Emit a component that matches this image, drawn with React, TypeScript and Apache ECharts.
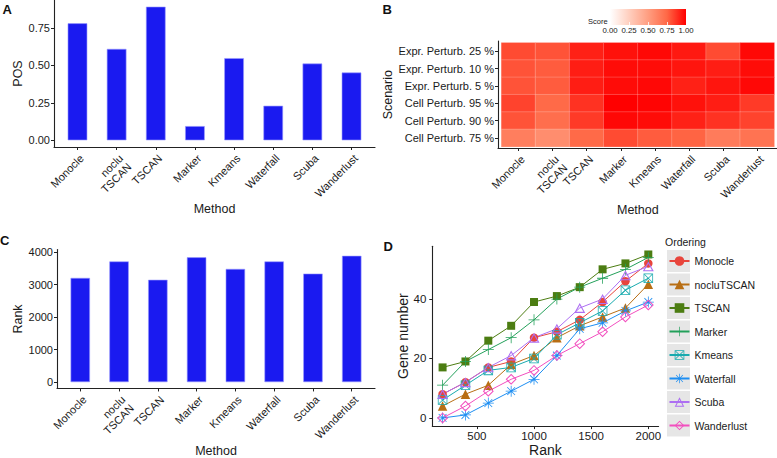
import React, { useEffect, useRef } from 'react';
import * as echarts from 'echarts';

// ---------- data ----------
const methods = ['Monocle', 'noclu\nTSCAN', 'TSCAN', 'Marker', 'Kmeans', 'Waterfall', 'Scuba', 'Wanderlust'];
const methodIdx = [0, 1, 2, 3, 4, 5, 6, 7];
const posValues = [0.782, 0.611, 0.893, 0.095, 0.549, 0.231, 0.513, 0.453];
const posTicks = [0, 0.25, 0.5, 0.75];
const rankValues = [3206, 3712, 3148, 3839, 3482, 3712, 3338, 3885];
const rankTicks = [0, 1000, 2000, 3000, 4000];

const scenarios = [
  'Expr. Perturb. 25 %',
  'Expr. Perturb. 10 %',
  'Expr. Perturb. 5 %',
  'Cell Perturb. 95 %',
  'Cell Perturb. 90 %',
  'Cell Perturb. 75 %',
];
const scoreExpr25 = [0.82, 0.8, 0.92, 0.96, 0.98, 0.94, 0.82, 0.98];
const scoreExpr10 = [0.8, 0.78, 0.93, 0.97, 0.97, 0.95, 0.93, 0.97];
const scoreExpr5 = [0.8, 0.78, 0.93, 0.97, 0.98, 0.92, 0.95, 0.98];
const scoreCell95 = [0.84, 0.74, 0.88, 1.0, 0.99, 0.96, 0.93, 0.86];
const scoreCell90 = [0.8, 0.72, 0.86, 0.98, 0.97, 0.92, 0.88, 0.84];
const scoreCell75 = [0.65, 0.58, 0.74, 0.82, 0.78, 0.76, 0.66, 0.7];
const scoreRows = [scoreExpr25, scoreExpr10, scoreExpr5, scoreCell95, scoreCell90, scoreCell75];
const scoreTicks = [0, 0.25, 0.5, 0.75, 1];
const scoreColors = ['#ffffff', '#ffcfbf', '#ff9e81', '#ff6846', '#ff0000'];

const geneRanks = [200, 400, 600, 800, 1000, 1200, 1400, 1600, 1800, 2000];
const geneRankTicks = [500, 1000, 1500, 2000];
const geneNumberTicks = [0, 20, 40];
const orderingNames = ['Monocle', 'nocluTSCAN', 'TSCAN', 'Marker', 'Kmeans', 'Waterfall', 'Scuba', 'Wanderlust'];
const geneMonocle = [8, 12, 17, 19, 27, 29, 33, 39, 46, 52];
const geneNocluTSCAN = [4, 8, 11, 18, 21, 27, 31, 34, 37, 45];
const geneTSCAN = [17, 19, 26, 31, 39, 41, 44, 50, 52, 55];
const geneMarker = [11, 19, 23, 27, 33, 40, 44, 47, 50, 54];
const geneKmeans = [6, 11, 16, 17, 20, 28, 32, 36, 43, 47];
const geneWaterfall = [0, 1, 5, 9, 13, 21, 30, 32, 36, 39];
const geneScuba = [8, 12, 17, 21, 27, 30, 37, 40, 48, 51];
const geneWanderlust = [0, 4, 9, 13, 16, 21, 25, 29, 34, 38];
const geneSeries = [geneMonocle, geneNocluTSCAN, geneTSCAN, geneMarker, geneKmeans, geneWaterfall, geneScuba, geneWanderlust];
const orderingColors = ['#e8453c', '#b86e14', '#4c7d12', '#23a05a', '#18aaae', '#1d8ef2', '#ad6ff2', '#f24fbf'];

// ---------- styles ----------
const FONT = "'Liberation Sans', Arial, Helvetica, sans-serif";
const TXT = '#1a1a1a';
const AX = '#222222';

const SYM_PLUS = 'path://M-0.7,-10H0.7V-0.7H10V0.7H0.7V10H-0.7V0.7H-10V-0.7H-0.7Z';
const SYM_BOXX =
  'path://M-10,-10H10V10H-10Z M-8.4,-8.4V8.4H8.4V-8.4Z M-8.4,-7.3L-7.3,-8.4L8.4,7.3L7.3,8.4Z M7.3,-8.4L8.4,-7.3L-7.3,8.4L-8.4,7.3Z';
const SYM_STAR =
  'path://M-0.7,-10H0.7V-0.7H10V0.7H0.7V10H-0.7V0.7H-10V-0.7H-0.7Z M-7.6,-6.6L-6.6,-7.6L7.6,6.6L6.6,7.6Z M6.6,-7.6L7.6,-6.6L-6.6,7.6L-7.6,6.6Z';
const SYM_OTRI = 'path://M0,-10L10,8L-10,8Z M0,-5.9L-6.6,6L6.6,6Z';
const SYM_ODIA = 'path://M0,-10L10,0L0,10L-10,0Z M0,-7.4L-7.4,0L0,7.4L7.4,0Z';
const orderingSymbols = ['circle', 'triangle', 'rect', SYM_PLUS, SYM_BOXX, SYM_STAR, SYM_OTRI, SYM_ODIA];
const orderingSymbolSizes = [8.5, 9.5, 8, 11, 9.5, 11, 11, 11];

const tickLabel = { color: TXT, fontSize: 11, fontFamily: FONT };
const axisLine = { show: true, onZero: false, lineStyle: { color: AX, width: 1.1 } };
const axisTick = (vals: number[] | null) => ({
  show: true,
  length: 3,
  lineStyle: { color: AX, width: 1 },
  ...(vals ? { customValues: vals } : {}),
});
const titleStyle = (size: number) => ({ color: TXT, fontSize: size, fontFamily: FONT });
const plain = (v: number) => String(v);

function buildOption() {
  const heatData: number[][] = [];
  scoreRows.forEach((row, r) => row.forEach((v, c) => heatData.push([c, r, v])));

  const barSeries = (values: number[], xi: number, yi: number, bw: number) => ({
    type: 'bar',
    xAxisIndex: xi,
    yAxisIndex: yi,
    barWidth: bw,
    data: values.map((v, i) => [methodIdx[i], v]),
    itemStyle: { color: '#1a1af0', borderColor: '#9b9bff', borderWidth: 0.6 },
    silent: true,
  });

  const lineSeries = orderingNames.map((name, k) => ({
    type: 'line',
    name,
    xAxisIndex: 5,
    yAxisIndex: 5,
    data: geneRanks.map((r, i) => [r, geneSeries[k][i]]),
    symbol: orderingSymbols[k],
    symbolSize: orderingSymbolSizes[k],
    symbolKeepAspect: true,
    showSymbol: true,
    lineStyle: { color: orderingColors[k], width: 1 },
    itemStyle: { color: orderingColors[k] },
    silent: true,
  }));

  const gradient = new echarts.graphic.LinearGradient(
    0,
    0,
    1,
    0,
    scoreColors.map((c, i) => ({ offset: i / (scoreColors.length - 1), color: c }))
  );

  const methodFmt = (v: number) => methods[Math.round(v)] ?? '';

  const bottomMethodLabel = {
    ...tickLabel,
    customValues: methodIdx,
    formatter: methodFmt,
    rotate: 45,
    align: 'right',
    verticalAlign: 'top',
    margin: 5,
    lineHeight: 12,
  };

  return {
    animation: false,
    backgroundColor: '#ffffff',
    textStyle: { fontFamily: FONT },
    grid: [
      { left: 54, top: 0, width: 321, height: 147 }, // A
      { left: 498, top: 41, width: 279, height: 107 }, // B frame
      { left: 501.4, top: 42.7, width: 272.9, height: 104 }, // B tiles
      { left: 610, top: 9, width: 76, height: 16, show: true, backgroundColor: gradient, borderWidth: 0 }, // colorbar
      { left: 57, top: 249.5, width: 318, height: 148 }, // C
      { left: 432.3, top: 246.3, width: 226.3, height: 183 }, // D
    ],
    xAxis: [
      {
        type: 'value',
        gridIndex: 0,
        min: -0.6,
        max: 7.6,
        axisLine,
        axisTick: axisTick(methodIdx),
        splitLine: { show: false },
        axisLabel: bottomMethodLabel,
        name: 'Method',
        nameLocation: 'middle',
        nameGap: 46,
        nameTextStyle: titleStyle(12.5),
      },
      {
        type: 'value',
        gridIndex: 1,
        min: 0,
        max: 1,
        axisLine,
        axisTick: { show: false },
        axisLabel: { show: false },
        splitLine: { show: false },
      },
      {
        type: 'category',
        gridIndex: 2,
        data: methods,
        offset: 1.3,
        axisLine: { show: false },
        axisTick: { ...axisTick(null), alignWithLabel: true, interval: 0 },
        axisLabel: {
          ...tickLabel,
          interval: 0,
          rotate: 45,
          align: 'right',
          verticalAlign: 'top',
          margin: 5,
          lineHeight: 12,
        },
        name: 'Method',
        nameLocation: 'middle',
        nameGap: 47,
        nameTextStyle: titleStyle(12.5),
      },
      {
        type: 'value',
        gridIndex: 3,
        min: 0,
        max: 1,
        axisLine: { show: false },
        axisTick: { show: true, inside: true, length: 3, customValues: scoreTicks, lineStyle: { color: '#ffffff', width: 0.8 } },
        splitLine: { show: false },
        axisLabel: {
          color: TXT,
          fontSize: 7.8,
          fontFamily: FONT,
          customValues: scoreTicks,
          formatter: (v: number) => v.toFixed(2),
          margin: 1.5,
        },
      },
      {
        type: 'value',
        gridIndex: 4,
        min: -0.6,
        max: 7.6,
        axisLine,
        axisTick: axisTick(methodIdx),
        splitLine: { show: false },
        axisLabel: bottomMethodLabel,
        name: 'Method',
        nameLocation: 'middle',
        nameGap: 48,
        nameTextStyle: titleStyle(12.5),
      },
      {
        type: 'value',
        gridIndex: 5,
        min: 110,
        max: 2090,
        axisLine,
        axisTick: axisTick(geneRankTicks),
        splitLine: { show: false },
        axisLabel: { ...tickLabel, fontSize: 11.5, customValues: geneRankTicks, formatter: plain, margin: 4 },
        name: 'Rank',
        nameLocation: 'middle',
        nameGap: 12,
        nameTextStyle: titleStyle(14),
      },
    ],
    yAxis: [
      {
        type: 'value',
        gridIndex: 0,
        min: -0.0447,
        max: 0.9377,
        axisLine,
        axisTick: axisTick(posTicks),
        splitLine: { show: false },
        axisLabel: { ...tickLabel, customValues: posTicks, formatter: (v: number) => v.toFixed(2), margin: 4 },
        name: 'POS',
        nameLocation: 'middle',
        nameGap: 25,
        nameTextStyle: titleStyle(12.5),
      },
      {
        type: 'value',
        gridIndex: 1,
        min: 0,
        max: 1,
        axisLine,
        axisTick: { show: false },
        axisLabel: { show: false },
        splitLine: { show: false },
      },
      {
        type: 'category',
        gridIndex: 2,
        data: scenarios,
        inverse: true,
        offset: 3.4,
        axisLine: { show: false },
        axisTick: { ...axisTick(null), alignWithLabel: true, interval: 0 },
        axisLabel: { ...tickLabel, interval: 0, margin: 4 },
        name: 'Scenario',
        nameLocation: 'middle',
        nameGap: 98,
        nameTextStyle: titleStyle(12.5),
      },
      {
        type: 'value',
        gridIndex: 3,
        show: false,
        min: 0,
        max: 1,
        splitLine: { show: false },
      },
      {
        type: 'value',
        gridIndex: 4,
        min: -194,
        max: 4079,
        axisLine,
        axisTick: axisTick(rankTicks),
        splitLine: { show: false },
        axisLabel: { ...tickLabel, customValues: rankTicks, formatter: plain, margin: 4 },
        name: 'Rank',
        nameLocation: 'middle',
        nameGap: 28,
        nameTextStyle: titleStyle(12.5),
      },
      {
        type: 'value',
        gridIndex: 5,
        min: -2.75,
        max: 57.75,
        axisLine,
        axisTick: axisTick(geneNumberTicks),
        splitLine: { show: false },
        axisLabel: { ...tickLabel, fontSize: 11.5, customValues: geneNumberTicks, formatter: plain, margin: 6 },
        name: 'Gene number',
        nameLocation: 'middle',
        nameGap: 18,
        nameTextStyle: titleStyle(14),
      },
    ],
    visualMap: {
      type: 'continuous',
      show: false,
      min: 0,
      max: 1,
      seriesIndex: 1,
      inRange: { color: scoreColors },
    },
    legend: {
      data: orderingNames,
      orient: 'vertical',
      left: 668.5,
      top: 255,
      padding: 0,
      itemWidth: 20,
      itemHeight: 12,
      itemGap: 11.5,
      selectedMode: false,
      textStyle: { color: TXT, fontSize: 10.5, fontFamily: FONT, lineHeight: 12 },
    },
    graphic: [
      ...orderingNames.map((_, i) => ({
        type: 'rect',
        shape: { x: 667, y: 250 + 23.5 * i, width: 23, height: 22 },
        style: { fill: '#e6e6e6' },
        z: -1,
        silent: true,
      })),
      { type: 'text', x: 665, y: 242, style: { text: 'Ordering', fill: TXT, font: `10.5px ${FONT}`, textVerticalAlign: 'middle' } },
      { type: 'text', x: 588, y: 21, style: { text: 'Score', fill: TXT, font: `7.5px ${FONT}`, textVerticalAlign: 'middle' } },
      { type: 'text', x: 2.5, y: 9.5, style: { text: 'A', fill: '#111', font: `bold 13px ${FONT}`, textVerticalAlign: 'middle' } },
      { type: 'text', x: 382.5, y: 9.5, style: { text: 'B', fill: '#111', font: `bold 13px ${FONT}`, textVerticalAlign: 'middle' } },
      { type: 'text', x: 0, y: 240.5, style: { text: 'C', fill: '#111', font: `bold 13px ${FONT}`, textVerticalAlign: 'middle' } },
      { type: 'text', x: 383.5, y: 246, style: { text: 'D', fill: '#111', font: `bold 13px ${FONT}`, textVerticalAlign: 'middle' } },
    ],
    series: [
      barSeries(posValues, 0, 0, 19.6),
      {
        type: 'heatmap',
        xAxisIndex: 2,
        yAxisIndex: 2,
        data: heatData,
        itemStyle: { borderColor: 'rgba(255,255,255,0.35)', borderWidth: 0.6 },
        emphasis: { disabled: true },
        silent: true,
      },
      barSeries(rankValues, 4, 4, 19.4),
      ...lineSeries,
    ],
  };
}

export default function App() {
  const ref = useRef<HTMLDivElement>(null);
  useEffect(() => {
    document.body.style.margin = '0';
    const chart = echarts.init(ref.current as HTMLDivElement, null, { renderer: 'svg' });
    chart.setOption(buildOption() as any);
    return () => chart.dispose();
  }, []);
  return <div ref={ref} style={{ width: 777, height: 458 }} />;
}
